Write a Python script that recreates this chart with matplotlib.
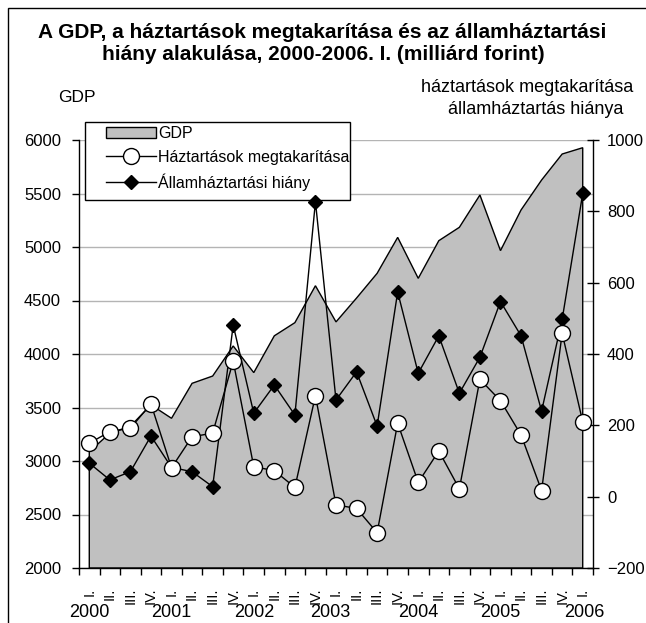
import matplotlib
matplotlib.use("Agg")
import matplotlib.pyplot as plt
from matplotlib.patches import Rectangle
from matplotlib.ticker import MultipleLocator, FixedLocator
import numpy as np

plt.rcParams['font.family'] = ['Liberation Sans', 'DejaVu Sans']

# 2000 I. - 2006 I., negyedévek
quarters = ['I.', 'II.', 'III.', 'IV.'] * 6 + ['I.']
years = ['2000', '2001', '2002', '2003', '2004', '2005', '2006']
year_pos = [0, 4, 8, 11.7, 16, 20, 24.1]

gdp = [3087, 3260, 3325, 3525, 3399, 3726, 3794, 4075, 3826, 4170, 4293, 4638,
       4300, 4523, 4754, 5090, 4707, 5059, 5184, 5486, 4966, 5346, 5626, 5869, 5928]
megtakaritas = [150, 182, 192, 260, 81, 168, 178, 380, 84, 73, 26, 283,
                -23, -33, -101, 206, 40, 128, 22, 329, 269, 173, 17, 458, 210]
hiany = [94, 47, 70, 170, 82, 70, 28, 481, 234, 313, 229, 827,
         271, 350, 198, 574, 346, 451, 290, 391, 547, 451, 240, 497, 850]

x = np.arange(len(gdp))

W, H = 646, 623
fig = plt.figure(figsize=(W / 100, H / 100), dpi=100)
ax = fig.add_axes([79 / W, 1 - 568 / H, 514 / W, 428 / H])
ax2 = ax.twinx()

# GDP terület
poly_x = np.concatenate([[x[0]], x, [x[-1]]])
poly_y = np.concatenate([[2000], gdp, [2000]])
area = ax.fill(poly_x, poly_y, facecolor='#c0c0c0', edgecolor='black', lw=1.0,
               zorder=2, label='GDP')[0]

ax.set_xlim(-0.5, len(gdp) - 0.5)
ax.set_ylim(2000, 6000)
ax.yaxis.set_major_locator(MultipleLocator(500))
ax.yaxis.grid(True, color='#b4b4b4', lw=1.0)
ax.set_axisbelow(True)

ax2.set_ylim(-200, 1000)
ax2.yaxis.set_major_locator(MultipleLocator(200))

l2, = ax2.plot(x, hiany, color='black', lw=1.0, marker='D', markersize=7.5,
               markerfacecolor='black', markeredgecolor='black', zorder=9.5,
               label='Államháztartási hiány')
l1, = ax2.plot(x, megtakaritas, color='black', lw=1.0, marker='o', markersize=11.5,
               markerfacecolor='white', markeredgecolor='black', markeredgewidth=1.0,
               zorder=9.6, label='Háztartások megtakarítása')

for a in (ax, ax2):
    a.spines['top'].set_visible(False)
ax.spines['right'].set_visible(False)
ax2.spines['left'].set_visible(False)
ax2.spines['bottom'].set_visible(False)
for s in ('left', 'bottom'):
    ax.spines[s].set_linewidth(1.0)
ax2.spines['right'].set_linewidth(1.0)

ax.tick_params(axis='y', direction='out', length=5, width=1, labelsize=12, pad=8)
ax2.tick_params(axis='y', direction='inout', length=8, width=1, labelsize=12, pad=6)

ax.set_xticks(x)
ax.set_xticklabels(quarters, rotation=90, fontsize=10.5)
ax.xaxis.set_minor_locator(FixedLocator(np.arange(-0.5, len(gdp), 1.0)))
ax.tick_params(axis='x', which='major', length=0, pad=14)
ax.tick_params(axis='x', which='minor', direction='out', length=5, width=1)

for yr, p in zip(years, year_pos):
    ax.text(p, -0.105, yr, transform=ax.get_xaxis_transform(), ha='center',
            va='center', fontsize=13)

fig.text(322 / W, 1 - 33 / H, 'A GDP, a háztartások megtakarítása és az államháztartási',
         ha='center', va='center', fontsize=15, fontweight='bold')
fig.text(323 / W, 1 - 55 / H, 'hiány alakulása, 2000-2006. I. (milliárd forint)',
         ha='center', va='center', fontsize=15, fontweight='bold')
fig.text(77 / W, 1 - 98 / H, 'GDP', ha='center', va='center', fontsize=12.5)
fig.text(527 / W, 1 - 88 / H, 'háztartások megtakarítása', ha='center',
         va='center', fontsize=13)
fig.text(536 / W, 1 - 110 / H, 'államháztartás hiánya', ha='center',
         va='center', fontsize=13)

# jelmagyarázat: keret külön téglalapként
ax2.add_patch(Rectangle((85 / W, 1 - 200 / H), 265 / W, 78 / H,
                        transform=fig.transFigure, facecolor='white',
                        edgecolor='black', lw=1.0, zorder=9, clip_on=False))
leg = ax2.legend([area, l1, l2], ['GDP', 'Háztartások megtakarítása', 'Államháztartási hiány'],
                 loc='upper left', bbox_to_anchor=(106 / W, 1 - 126 / H),
                 bbox_transform=fig.transFigure, fontsize=11.5, frameon=False,
                 borderaxespad=0, handlelength=3.1, handletextpad=0.15,
                 labelspacing=0.55, borderpad=0)
leg.set_zorder(10)

fig.add_artist(Rectangle((8 / W, -0.1), 1.2, 1 - 8 / H + 0.1,
                         transform=fig.transFigure, fill=False,
                         edgecolor='black', lw=1.0))

fig.savefig('out.png', dpi=100)
